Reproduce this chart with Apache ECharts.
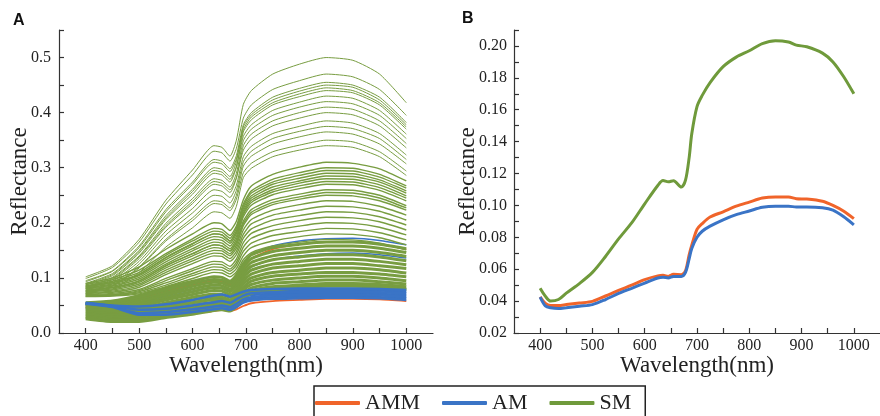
<!DOCTYPE html>
<html>
<head>
<meta charset="utf-8">
<script src="https://cdn.jsdelivr.net/npm/echarts@6/dist/echarts.min.js"></script>
<style>
html, body { margin: 0; padding: 0; background: #fff; }
#chart { width: 880px; height: 416px; }
</style>
</head>
<body>
<div id="chart"></div>
<script>
// panel A: sampled wavelengths for every raw spectrum
var wavelengthA = [400, 450, 500, 550, 600, 640, 655, 670, 682, 695, 710, 750, 800, 850, 900, 950, 1000];

// SM spectra, bright group (NIR plateau 0.34 - 0.50)
var smHigh = [
    [0.102, 0.122, 0.170, 0.241, 0.296, 0.340, 0.337, 0.321, 0.350, 0.415, 0.440, 0.470, 0.488, 0.500, 0.495, 0.470, 0.418],
    [0.099, 0.119, 0.165, 0.234, 0.287, 0.330, 0.327, 0.312, 0.335, 0.390, 0.414, 0.442, 0.458, 0.470, 0.465, 0.442, 0.395],
    [0.095, 0.113, 0.158, 0.224, 0.274, 0.315, 0.312, 0.298, 0.322, 0.378, 0.400, 0.428, 0.444, 0.455, 0.450, 0.428, 0.382],
    [0.090, 0.108, 0.150, 0.213, 0.261, 0.300, 0.297, 0.284, 0.311, 0.374, 0.396, 0.423, 0.439, 0.450, 0.446, 0.423, 0.378],
    [0.093, 0.112, 0.155, 0.220, 0.270, 0.310, 0.307, 0.293, 0.316, 0.369, 0.392, 0.418, 0.434, 0.445, 0.440, 0.418, 0.374],
    [0.087, 0.104, 0.145, 0.206, 0.252, 0.290, 0.287, 0.274, 0.301, 0.365, 0.387, 0.414, 0.429, 0.440, 0.436, 0.414, 0.370],
    [0.089, 0.106, 0.148, 0.209, 0.257, 0.295, 0.292, 0.279, 0.302, 0.357, 0.378, 0.404, 0.419, 0.430, 0.426, 0.404, 0.361],
    [0.084, 0.101, 0.140, 0.199, 0.244, 0.280, 0.277, 0.265, 0.290, 0.349, 0.370, 0.395, 0.410, 0.420, 0.416, 0.395, 0.353],
    [0.081, 0.097, 0.135, 0.192, 0.235, 0.270, 0.267, 0.255, 0.281, 0.340, 0.361, 0.385, 0.400, 0.410, 0.406, 0.385, 0.344],
    [0.083, 0.099, 0.138, 0.195, 0.239, 0.275, 0.272, 0.260, 0.282, 0.332, 0.352, 0.376, 0.390, 0.400, 0.396, 0.376, 0.336],
    [0.078, 0.094, 0.130, 0.185, 0.226, 0.260, 0.257, 0.246, 0.268, 0.320, 0.339, 0.362, 0.375, 0.385, 0.381, 0.362, 0.323],
    [0.075, 0.090, 0.125, 0.178, 0.218, 0.250, 0.248, 0.236, 0.259, 0.311, 0.330, 0.353, 0.366, 0.375, 0.371, 0.353, 0.315],
    [0.072, 0.086, 0.120, 0.170, 0.209, 0.240, 0.238, 0.227, 0.250, 0.303, 0.321, 0.343, 0.356, 0.365, 0.361, 0.343, 0.307],
    [0.071, 0.085, 0.118, 0.167, 0.204, 0.235, 0.233, 0.222, 0.243, 0.291, 0.308, 0.329, 0.341, 0.350, 0.347, 0.329, 0.294],
    [0.066, 0.079, 0.110, 0.156, 0.191, 0.220, 0.218, 0.208, 0.230, 0.282, 0.299, 0.320, 0.332, 0.340, 0.337, 0.320, 0.286]
];

// SM spectra, middle group (NIR plateau 0.17 - 0.31)
var smMid = [
    [0.090, 0.100, 0.120, 0.152, 0.180, 0.200, 0.198, 0.186, 0.203, 0.242, 0.267, 0.288, 0.301, 0.310, 0.308, 0.298, 0.276],
    [0.088, 0.097, 0.114, 0.144, 0.171, 0.190, 0.188, 0.177, 0.194, 0.234, 0.258, 0.279, 0.291, 0.300, 0.299, 0.288, 0.267],
    [0.086, 0.094, 0.110, 0.141, 0.167, 0.185, 0.183, 0.172, 0.190, 0.230, 0.254, 0.274, 0.286, 0.295, 0.294, 0.283, 0.263],
    [0.085, 0.092, 0.107, 0.137, 0.162, 0.180, 0.178, 0.167, 0.185, 0.226, 0.249, 0.270, 0.281, 0.290, 0.289, 0.278, 0.258],
    [0.084, 0.091, 0.106, 0.137, 0.162, 0.180, 0.178, 0.167, 0.184, 0.222, 0.245, 0.265, 0.276, 0.285, 0.284, 0.274, 0.254],
    [0.082, 0.089, 0.104, 0.133, 0.158, 0.175, 0.173, 0.163, 0.180, 0.218, 0.241, 0.260, 0.272, 0.280, 0.279, 0.269, 0.249],
    [0.081, 0.087, 0.101, 0.129, 0.153, 0.170, 0.168, 0.158, 0.175, 0.215, 0.237, 0.256, 0.267, 0.275, 0.274, 0.264, 0.245],
    [0.080, 0.085, 0.098, 0.125, 0.149, 0.165, 0.163, 0.153, 0.170, 0.211, 0.232, 0.251, 0.262, 0.270, 0.269, 0.259, 0.240],
    [0.078, 0.083, 0.095, 0.122, 0.144, 0.160, 0.158, 0.149, 0.165, 0.203, 0.224, 0.242, 0.252, 0.260, 0.259, 0.250, 0.231],
    [0.077, 0.082, 0.094, 0.122, 0.144, 0.160, 0.158, 0.149, 0.164, 0.199, 0.219, 0.237, 0.247, 0.255, 0.254, 0.245, 0.227],
    [0.076, 0.080, 0.092, 0.118, 0.140, 0.155, 0.153, 0.144, 0.159, 0.195, 0.215, 0.233, 0.243, 0.250, 0.249, 0.240, 0.223],
    [0.075, 0.078, 0.089, 0.114, 0.135, 0.150, 0.149, 0.140, 0.154, 0.187, 0.206, 0.223, 0.233, 0.240, 0.239, 0.230, 0.214],
    [0.073, 0.076, 0.086, 0.110, 0.131, 0.145, 0.144, 0.135, 0.148, 0.179, 0.198, 0.214, 0.223, 0.230, 0.229, 0.221, 0.205],
    [0.072, 0.074, 0.083, 0.106, 0.126, 0.140, 0.139, 0.130, 0.142, 0.172, 0.189, 0.205, 0.213, 0.220, 0.219, 0.211, 0.196],
    [0.070, 0.072, 0.079, 0.099, 0.117, 0.130, 0.129, 0.121, 0.134, 0.164, 0.181, 0.195, 0.204, 0.210, 0.209, 0.202, 0.187],
    [0.069, 0.070, 0.077, 0.095, 0.113, 0.125, 0.124, 0.116, 0.128, 0.156, 0.172, 0.186, 0.194, 0.200, 0.199, 0.192, 0.178],
    [0.068, 0.069, 0.075, 0.091, 0.108, 0.120, 0.119, 0.112, 0.123, 0.148, 0.163, 0.177, 0.184, 0.190, 0.189, 0.182, 0.169],
    [0.067, 0.068, 0.073, 0.087, 0.104, 0.115, 0.114, 0.107, 0.117, 0.140, 0.155, 0.167, 0.175, 0.180, 0.179, 0.173, 0.160],
    [0.066, 0.067, 0.071, 0.084, 0.099, 0.110, 0.109, 0.102, 0.111, 0.133, 0.146, 0.158, 0.165, 0.170, 0.169, 0.163, 0.151]
];

// SM spectra, dark group (NIR plateau 0.085 - 0.165)
var smLow = [
    [0.055, 0.058, 0.068, 0.082, 0.094, 0.102, 0.101, 0.094, 0.105, 0.126, 0.142, 0.155, 0.161, 0.165, 0.165, 0.161, 0.153],
    [0.053, 0.055, 0.064, 0.078, 0.090, 0.097, 0.096, 0.090, 0.100, 0.120, 0.135, 0.148, 0.154, 0.158, 0.158, 0.154, 0.146],
    [0.050, 0.051, 0.060, 0.073, 0.085, 0.092, 0.091, 0.085, 0.095, 0.113, 0.128, 0.140, 0.146, 0.150, 0.150, 0.146, 0.139],
    [0.048, 0.048, 0.056, 0.069, 0.080, 0.087, 0.086, 0.080, 0.090, 0.107, 0.121, 0.133, 0.138, 0.142, 0.142, 0.138, 0.131],
    [0.045, 0.045, 0.052, 0.064, 0.075, 0.082, 0.081, 0.075, 0.085, 0.101, 0.114, 0.125, 0.130, 0.134, 0.134, 0.130, 0.124],
    [0.043, 0.042, 0.048, 0.060, 0.070, 0.077, 0.076, 0.070, 0.079, 0.095, 0.107, 0.118, 0.122, 0.126, 0.126, 0.122, 0.117],
    [0.040, 0.039, 0.044, 0.055, 0.065, 0.071, 0.070, 0.065, 0.074, 0.089, 0.100, 0.110, 0.114, 0.118, 0.118, 0.115, 0.109],
    [0.038, 0.035, 0.040, 0.050, 0.060, 0.066, 0.065, 0.060, 0.069, 0.083, 0.094, 0.103, 0.107, 0.110, 0.110, 0.107, 0.102],
    [0.035, 0.032, 0.036, 0.046, 0.055, 0.061, 0.060, 0.056, 0.064, 0.078, 0.088, 0.096, 0.100, 0.103, 0.103, 0.100, 0.095],
    [0.033, 0.029, 0.032, 0.041, 0.050, 0.056, 0.055, 0.051, 0.059, 0.072, 0.082, 0.090, 0.093, 0.096, 0.096, 0.093, 0.089],
    [0.030, 0.026, 0.028, 0.037, 0.045, 0.051, 0.050, 0.047, 0.055, 0.068, 0.077, 0.084, 0.087, 0.090, 0.090, 0.088, 0.084],
    [0.028, 0.023, 0.024, 0.032, 0.040, 0.046, 0.046, 0.043, 0.051, 0.065, 0.074, 0.080, 0.083, 0.086, 0.086, 0.084, 0.080],
    [0.026, 0.021, 0.021, 0.028, 0.034, 0.041, 0.042, 0.040, 0.048, 0.062, 0.072, 0.078, 0.082, 0.085, 0.085, 0.083, 0.079]
];

// AM spectra: a few bright ones, then the dense dark band (part drawn under the SM lines, part over)
var amHigh = [
    [0.050, 0.052, 0.062, 0.076, 0.088, 0.096, 0.095, 0.089, 0.100, 0.122, 0.142, 0.158, 0.167, 0.171, 0.172, 0.168, 0.160],
    [0.045, 0.045, 0.053, 0.066, 0.076, 0.083, 0.082, 0.077, 0.087, 0.105, 0.120, 0.133, 0.140, 0.144, 0.145, 0.142, 0.136]
];
var amBandUnder = [
    [0.054, 0.048, 0.045, 0.048, 0.055, 0.062, 0.064, 0.060, 0.065, 0.071, 0.075, 0.077, 0.078, 0.078, 0.078, 0.077, 0.075],
    [0.053, 0.046, 0.039, 0.041, 0.046, 0.052, 0.054, 0.051, 0.057, 0.065, 0.069, 0.071, 0.072, 0.072, 0.072, 0.071, 0.069],
    [0.052, 0.044, 0.034, 0.035, 0.040, 0.045, 0.047, 0.044, 0.050, 0.058, 0.062, 0.065, 0.066, 0.066, 0.066, 0.065, 0.063]
];
var amBandOver = [
    [0.055, 0.050, 0.048, 0.052, 0.060, 0.068, 0.070, 0.066, 0.070, 0.075, 0.078, 0.080, 0.081, 0.081, 0.081, 0.080, 0.078],
    [0.054, 0.049, 0.042, 0.044, 0.050, 0.056, 0.058, 0.055, 0.061, 0.068, 0.072, 0.074, 0.075, 0.075, 0.075, 0.074, 0.072],
    [0.054, 0.048, 0.036, 0.038, 0.043, 0.048, 0.050, 0.047, 0.053, 0.061, 0.065, 0.068, 0.069, 0.069, 0.069, 0.068, 0.066],
    [0.053, 0.047, 0.033, 0.033, 0.038, 0.043, 0.045, 0.042, 0.047, 0.055, 0.059, 0.062, 0.063, 0.064, 0.064, 0.063, 0.060]
];

// AMM spectra
var ammHigh = [
    [0.054, 0.054, 0.063, 0.076, 0.087, 0.094, 0.093, 0.087, 0.097, 0.117, 0.135, 0.152, 0.161, 0.165, 0.165, 0.161, 0.152]
];
var ammLow = [
    [0.047, 0.038, 0.031, 0.031, 0.035, 0.040, 0.042, 0.040, 0.043, 0.049, 0.054, 0.058, 0.060, 0.062, 0.062, 0.061, 0.058]
];

// panel B: mean spectra
var wavelengthB = [400, 410, 420, 435, 450, 475, 500, 525, 550, 575, 600, 625, 635, 645, 655, 670, 678, 685, 690, 700,
    710, 725, 750, 775, 800, 825, 850, 875, 890, 910, 940, 960, 980, 1000];
var meanSM = [0.048, 0.043, 0.040, 0.041, 0.045, 0.051, 0.058, 0.068, 0.079, 0.089, 0.101, 0.1125, 0.1156, 0.1148, 0.1155,
    0.1115, 0.1158, 0.130, 0.145, 0.162, 0.169, 0.177, 0.187, 0.193, 0.197, 0.2015, 0.2033, 0.2025, 0.2005, 0.1995,
    0.1955, 0.190, 0.181, 0.170];
var meanAMM = [0.0426, 0.0385, 0.0372, 0.0372, 0.0378, 0.0388, 0.0398, 0.0432, 0.0467, 0.050, 0.0535, 0.0558, 0.0562,
    0.0555, 0.0568, 0.0566, 0.059, 0.069, 0.075, 0.085, 0.0886, 0.0927, 0.096, 0.0995, 0.1021, 0.1046, 0.1053, 0.1053,
    0.1042, 0.104, 0.1026, 0.100, 0.0965, 0.0917];
var meanAM = [0.0425, 0.037, 0.0358, 0.0353, 0.0358, 0.0368, 0.0378, 0.041, 0.0448, 0.048, 0.0513, 0.0545, 0.055,
    0.0545, 0.0555, 0.0555, 0.058, 0.0665, 0.073, 0.080, 0.0838, 0.087, 0.091, 0.0942, 0.0965, 0.0988, 0.0995, 0.0995,
    0.099, 0.099, 0.0985, 0.097, 0.093, 0.0878];

var groupNames = ['AMM', 'AM', 'SM'];
var colorAMM = '#f0642a';
var colorAM = '#3a74c6';
var colorSM = '#6f9a3b';
var colorSMthin = '#789d41';
var serif = 'Liberation Serif';

var chart = echarts.init(document.getElementById('chart'));

function pairs(xs, ys) {
    return xs.map(function(x, i) { return [x, ys[i]]; });
}

var series = [];
function addLines(list, name, color, width) {
    list.forEach(function(ys) {
        series.push({
            type: 'line', name: name, xAxisIndex: 0, yAxisIndex: 0,
            data: pairs(wavelengthA, ys),
            showSymbol: false, symbol: 'none', smooth: 0.2,
            silent: true, animation: false,
            lineStyle: { color: color, width: width },
            itemStyle: { color: color },
            emphasis: { disabled: true }
        });
    });
}

// drawing order matters: later lines cover earlier ones
addLines(amHigh, 'AM', colorAM, 1.5);
addLines(ammHigh, 'AMM', colorAMM, 1.5);
addLines(ammLow, 'AMM', colorAMM, 1.8);
addLines(amBandUnder, 'AM', colorAM, 2.5);
addLines(smLow, 'SM', colorSMthin, 3);
addLines(amBandOver, 'AM', colorAM, 2.5);
addLines(smMid, 'SM', colorSMthin, 1.4);
addLines(smHigh, 'SM', colorSMthin, 1);

[[meanSM, 'SM', colorSM], [meanAMM, 'AMM', colorAMM], [meanAM, 'AM', colorAM]].forEach(function(s) {
    series.push({
        type: 'line', name: s[1], xAxisIndex: 1, yAxisIndex: 1,
        data: pairs(wavelengthB, s[0]),
        showSymbol: false, symbol: 'none', smooth: 0.3,
        silent: true, animation: false,
        lineStyle: { color: s[2], width: 3 },
        itemStyle: { color: s[2] },
        emphasis: { disabled: true }
    });
});

var axisLine = { show: true, onZero: false, lineStyle: { color: '#333', width: 1.2 } };
var axisTick = { show: true, inside: true, length: 5, lineStyle: { color: '#333', width: 1.2 } };
var labelFont = { fontFamily: serif, fontSize: 16, color: '#222' };
var nameFont = { fontFamily: serif, fontSize: 23, color: '#222' };

function xAxisFor(idx) {
    return {
        type: 'value', gridIndex: idx, min: 350, max: 1050, interval: 50,
        name: 'Wavelength(nm)', nameLocation: 'middle', nameGap: 21, nameMoveOverlap: false,
        nameTextStyle: nameFont,
        axisLine: axisLine, axisTick: axisTick, splitLine: { show: false },
        axisLabel: Object.assign({ margin: 5, showMinLabel: false, showMaxLabel: false,
            formatter: function(v) { return (v % 100 === 0 && v >= 400 && v <= 1000) ? String(v) : ''; } }, labelFont)
    };
}

var option = {
    backgroundColor: '#fff',
    animation: false,
    grid: [
        { left: 59, top: 30, width: 374, height: 303 },
        { left: 514, top: 30, width: 374, height: 303 }
    ],
    xAxis: [xAxisFor(0), xAxisFor(1)],
    yAxis: [
        {
            type: 'value', gridIndex: 0, min: 0, max: 0.55, interval: 0.05,
            name: 'Reflectance', nameLocation: 'middle', nameGap: 28, nameMoveOverlap: false,
            nameTextStyle: nameFont,
            axisLine: axisLine, axisTick: axisTick, splitLine: { show: false },
            axisLabel: Object.assign({ margin: 8,
                formatter: function(v) { var k = Math.round(v * 100); return k % 10 === 0 && k <= 50 ? (k / 100).toFixed(1) : ''; } }, labelFont)
        },
        {
            type: 'value', gridIndex: 1, min: 0.02, max: 0.21, interval: 0.01,
            name: 'Reflectance', nameLocation: 'middle', nameGap: 35, nameMoveOverlap: false,
            nameTextStyle: nameFont,
            axisLine: axisLine, axisTick: axisTick, splitLine: { show: false },
            axisLabel: Object.assign({ margin: 7,
                formatter: function(v) { var k = Math.round(v * 100); return k % 2 === 0 && k <= 20 ? (k / 100).toFixed(2) : ''; } }, labelFont)
        }
    ],
    legend: {
        left: 314, top: 386,
        padding: [4, 14, 12, 1],
        itemGap: 22, itemWidth: 45, itemHeight: 4,
        borderColor: '#222', borderWidth: 1.5,
        selectedMode: false,
        textStyle: { fontFamily: serif, fontSize: 22, color: '#222', lineHeight: 26 },
        data: [
            { name: groupNames[0], icon: 'roundRect', itemStyle: { color: colorAMM } },
            { name: groupNames[1], icon: 'roundRect', itemStyle: { color: colorAM } },
            { name: groupNames[2], icon: 'roundRect', itemStyle: { color: colorSM } }
        ]
    },
    graphic: [
        { type: 'text', left: 13, top: 13, style: { text: 'A', font: 'bold 16px "Liberation Sans"', fill: '#111' } },
        { type: 'text', left: 462, top: 11, style: { text: 'B', font: 'bold 16px "Liberation Sans"', fill: '#111' } }
    ],
    series: series
};

chart.setOption(option);
</script>
</body>
</html>
